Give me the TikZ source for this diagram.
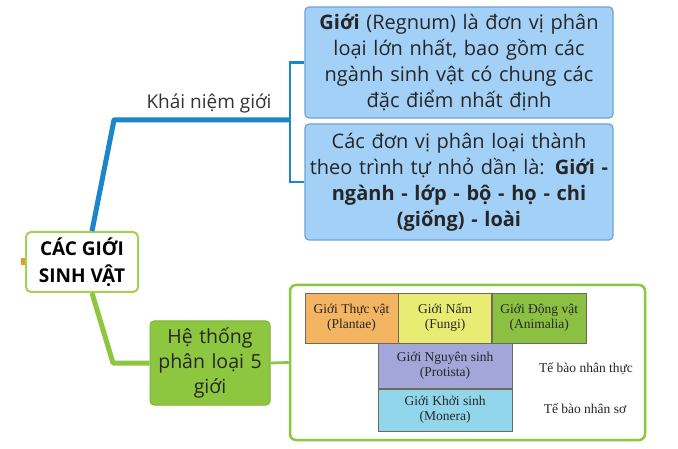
\documentclass[tikz,border=0pt]{standalone}
\usepackage{fontspec}
\setmainfont{Open Sans}
\newfontfamily\tabfont{Liberation Serif}
\usetikzlibrary{positioning,calc,backgrounds}
\definecolor{branchblue}{HTML}{1B87CA}
\definecolor{boxblue}{HTML}{A3D0F6}
\definecolor{boxline}{HTML}{6FA3D4}
\definecolor{branchgreen}{HTML}{8DC63F}
\definecolor{rootline}{HTML}{A5CF55}
\definecolor{plantcol}{HTML}{F3B562}
\definecolor{fungicol}{HTML}{E9EC72}
\definecolor{animalcol}{HTML}{8CC043}
\definecolor{protcol}{HTML}{A3A6D8}
\definecolor{monecol}{HTML}{92D6EC}
\definecolor{cellline}{HTML}{6E6A5C}
\definecolor{foldcol}{HTML}{E39A2D}
\tikzset{
  topic/.style={draw=boxline, fill=boxblue, line width=1.2pt, rounded corners=4pt,
    text width=300pt, inner xsep=4pt, minimum height=111pt, align=center,
    font=\fontsize{20}{26}\selectfont, text=black!85},
  rootbox/.style={draw=rootline, fill=white, line width=2pt, rounded corners=5pt,
    minimum width=112pt, minimum height=60pt, align=center,
    font=\bfseries\fontsize{19}{27}\selectfont},
  greenbox/.style={draw=branchgreen!90!black, fill=branchgreen, line width=1pt, rounded corners=4pt,
    text width=112pt, inner xsep=4pt, minimum height=84pt, align=center,
    font=\fontsize{19.5}{25}\selectfont, text=black!85},
  tablebox/.style={draw=branchgreen, line width=2.5pt, rounded corners=6pt,
    minimum width=355pt, minimum height=155pt},
  kingdom/.style={draw=cellline, line width=0.6pt, inner sep=0pt, align=center,
    minimum width=93pt, minimum height=50pt, font=\tabfont\fontsize{13.5}{15}\selectfont, text=black!85},
  cell/.style={font=\tabfont\fontsize{13.5}{15}\selectfont, text=black!85},
  branchlabel/.style={font=\fontsize{19}{22}\selectfont, text=black!80},
  bluebranch/.style={draw=branchblue, line width=5pt, line join=round},
  bluelink/.style={draw=branchblue, line width=2.8pt},
  greenbranch/.style={draw=branchgreen, line width=5pt, line join=round},
  greenlink/.style={draw=branchgreen, line width=2.8pt},
}
\begin{document}
\begin{tikzpicture}[x=1pt,y=-1pt]
\useasboundingbox[fill=white] (0,0) rectangle (678,449);

% main nodes
\node[rootbox] (root) at (82,262) {CÁC GIỚI\\SINH VẬT};
\node[fill=foldcol, minimum width=4pt, minimum height=7pt, inner sep=0pt, left=0pt of root] (fold) {};
\node[topic] (def) at (459,62.5) {\textbf{Giới} (Regnum) là đơn vị phân\\loại lớn nhất, bao gồm các\\ngành sinh vật có chung các\\đặc điểm nhất định};
\node[topic, minimum height=116pt] (order) at (459,182) {Các đơn vị phân loại thành\\theo trình tự nhỏ dần là: \textbf{Giới -}\\\textbf{ngành - lớp - bộ - họ - chi}\\\textbf{(giống) - loài}};
\node[greenbox] (five) at (210,363) {Hệ thống\\phân loại 5\\giới};
\node[tablebox] (table) at (467.5,362.5) {};

% five kingdoms
\node[kingdom, fill=plantcol] (plantae) at (351.5,318) {Giới Thực vật\\(Plantae)};
\node[kingdom, fill=fungicol, right=0pt of plantae] (fungi) {Giới Nấm\\(Fungi)};
\node[kingdom, fill=animalcol, minimum width=94pt, right=0pt of fungi] (animalia) {Giới Động vật\\(Animalia)};
\node[kingdom, fill=protcol, minimum width=134pt, minimum height=45pt, below=0pt of fungi] (protista) {Giới Nguyên sinh\\(Protista)};
\node[kingdom, fill=monecol, minimum width=134pt, minimum height=42pt, below=0pt of protista] (monera) {Giới Khởi sinh\\(Monera)};
\node[cell] (eukar) at (586,369) {Tế bào nhân thực};
\node[cell] (prokar) at (585,409) {Tế bào nhân sơ};
\begin{scope}[on background layer]
\draw[black!25, line width=1pt] ([xshift=2pt]table.west |- protista.south) -- ([xshift=-2pt]table.east |- protista.south);
\end{scope}

% branches
\coordinate (split) at (290,120);
\draw[bluebranch] ([xshift=10pt]root.north) -- (114,120) -- (split);
\node[branchlabel] (concept) at (209,104) {Khái niệm giới};
\draw[bluelink] (def.west) -| (split) |- (order.west);
\draw[greenbranch] ([xshift=10pt]root.south) -- (113,363) -- (five.west);
\draw[greenlink] (five.east) -- (table.west);
\end{tikzpicture}
\end{document}
